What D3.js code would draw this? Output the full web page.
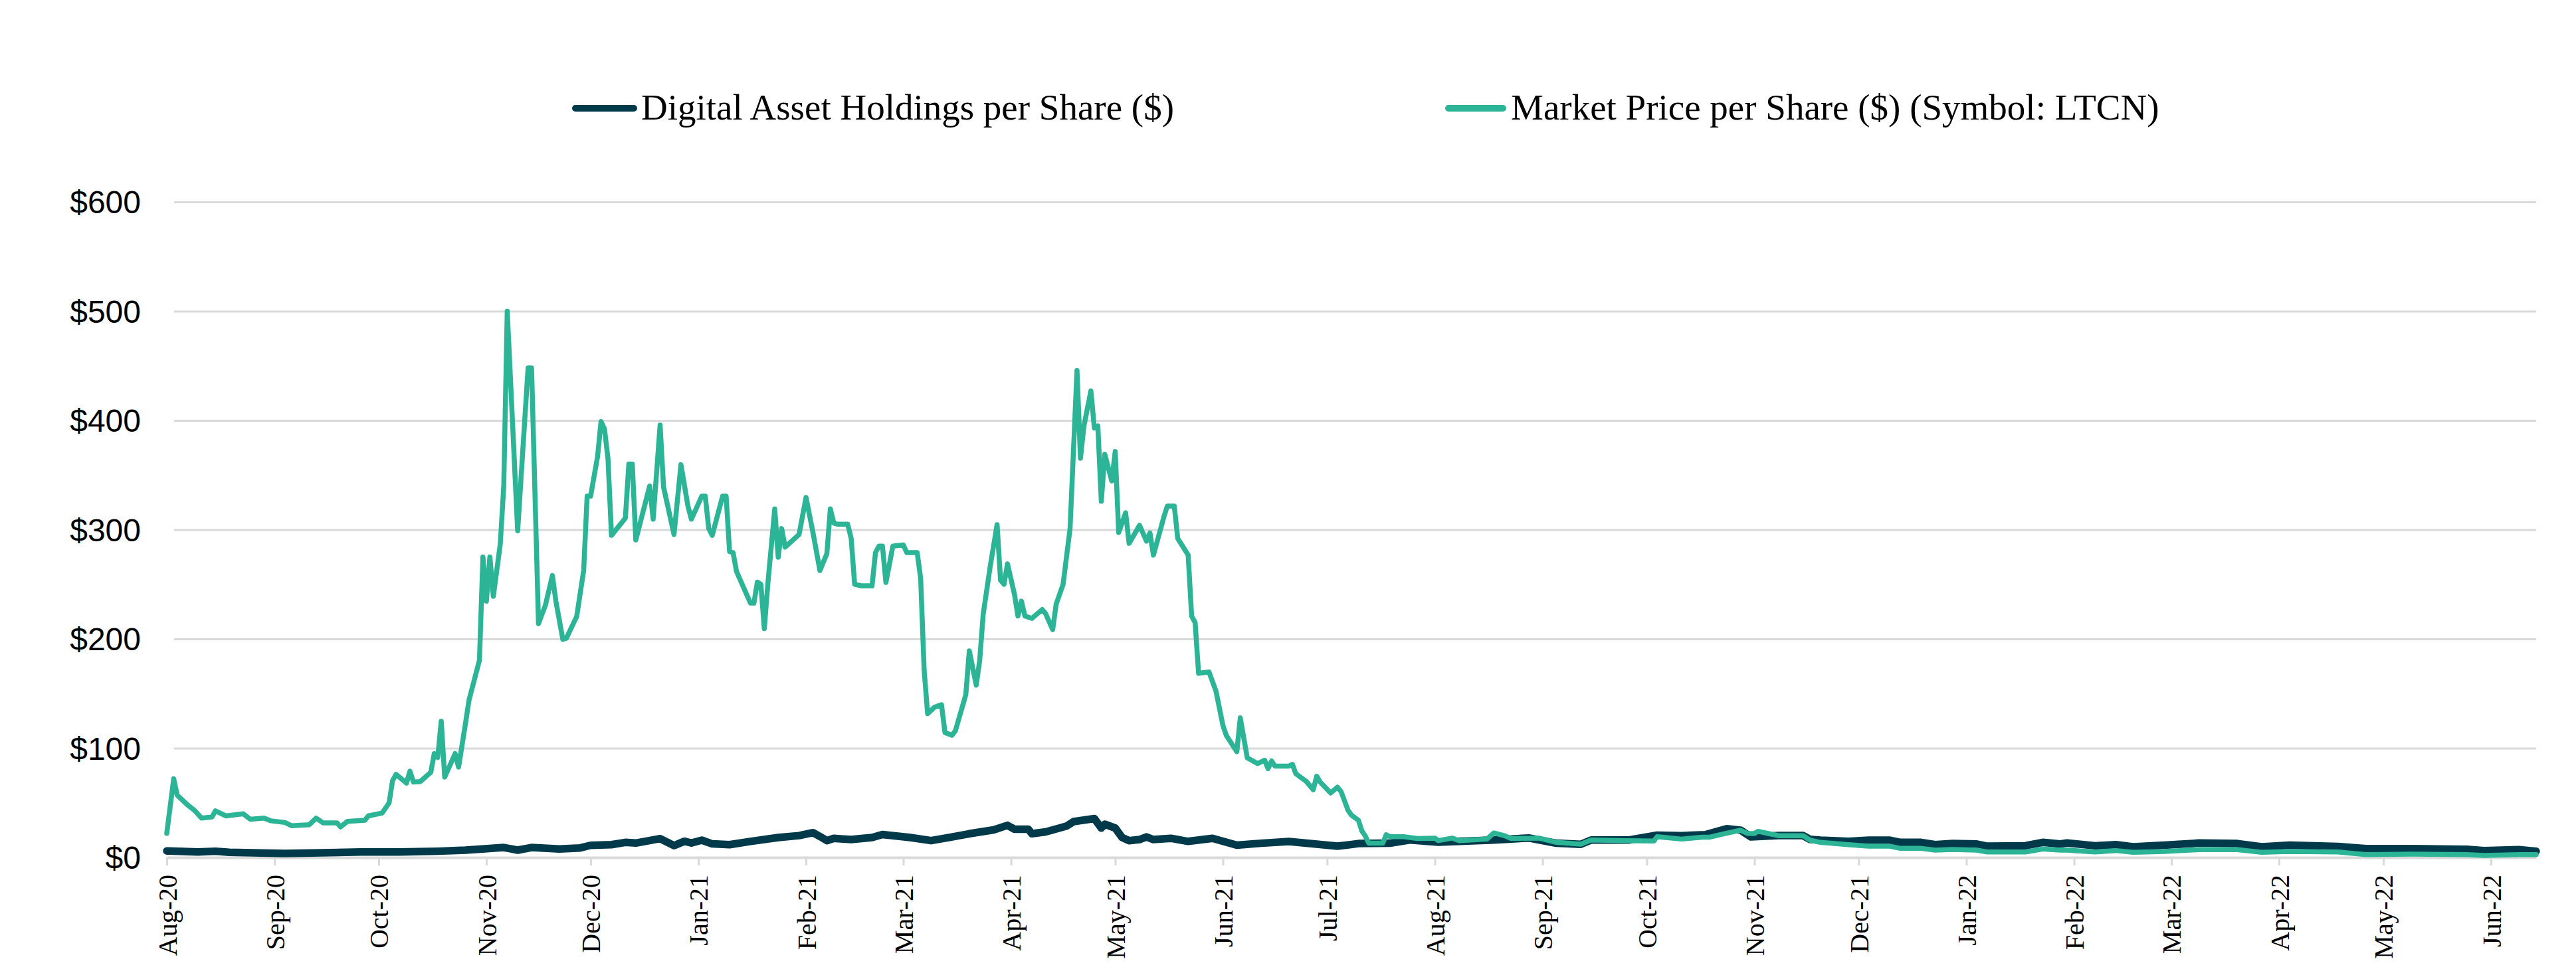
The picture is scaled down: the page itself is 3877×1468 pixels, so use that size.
<!DOCTYPE html>
<html>
<head>
<meta charset="utf-8">
<script src="https://cdn.jsdelivr.net/npm/d3@7"></script>
<style>
html, body { margin: 0; padding: 0; background: #ffffff; }
svg { display: block; }
</style>
</head>
<body>
<svg id="chart" width="3877" height="1468"></svg>
<script>
// ---------------- DATA ----------------
const seriesNames = ["Digital Asset Holdings per Share ($)", "Market Price per Share ($) (Symbol: LTCN)"];

const holdingsDates = [
"2020-08-01","2020-08-10","2020-08-15","2020-08-19","2020-09-04","2020-09-26","2020-10-07","2020-10-18","2020-10-26",
"2020-11-06","2020-11-10","2020-11-14","2020-11-22","2020-11-28","2020-12-01","2020-12-07","2020-12-11","2020-12-14",
"2020-12-21","2020-12-25","2020-12-28","2020-12-30","2021-01-02","2021-01-05","2021-01-10","2021-01-16","2021-01-24",
"2021-01-30","2021-02-03","2021-02-05","2021-02-07","2021-02-09","2021-02-14","2021-02-20","2021-02-23","2021-03-03",
"2021-03-09","2021-03-14","2021-03-20","2021-03-27","2021-03-31","2021-04-02","2021-04-06","2021-04-07","2021-04-11",
"2021-04-17","2021-04-19","2021-04-25","2021-04-27","2021-04-28","2021-05-01","2021-05-03","2021-05-05","2021-05-08",
"2021-05-10","2021-05-12","2021-05-17","2021-05-22","2021-05-29","2021-06-05","2021-06-12","2021-06-20","2021-07-04",
"2021-07-10","2021-07-19","2021-07-25","2021-08-02","2021-08-18","2021-08-28","2021-09-05","2021-09-12","2021-09-15",
"2021-09-26","2021-10-04","2021-10-11","2021-10-18","2021-10-24","2021-10-28","2021-10-31","2021-11-08","2021-11-15",
"2021-11-17","2021-11-20","2021-11-28","2021-12-04","2021-12-10","2021-12-13","2021-12-19","2021-12-23","2021-12-28",
"2022-01-04","2022-01-07","2022-01-18","2022-01-23","2022-01-28","2022-01-30","2022-02-07","2022-02-13","2022-02-18",
"2022-02-27","2022-03-09","2022-03-20","2022-03-27","2022-04-04","2022-04-18","2022-04-26","2022-05-09","2022-05-25",
"2022-05-30","2022-06-09","2022-06-14"];
const holdingsValues = [
6,5,5.7,4.7,3.6,5,5,5.7,6.7,
9.1,6.7,9.1,7.7,8.7,11.1,11.7,13.8,13.2,
17.2,10.8,14.8,13.2,15.8,12.4,11.7,14.7,18.2,
20,22.7,19.2,15.4,17.5,16.4,18.2,21,18.2,
15.4,18.2,21.7,25.2,29.4,25.8,25.8,21.7,23.4,
28.7,32.8,35.6,26.9,30.4,26.9,18.2,15.4,16.4,
18.8,16.4,17.5,14.7,17.5,11.2,13,14.6,10.3,
12.7,13,16,14,16,17.8,13,12,16,
16,20.4,19.9,20.9,26.3,25,18.8,20,20,
16.5,15.8,14.8,15.8,15.8,13.8,13.8,11.7,12.7,
12.3,10.3,10.7,13.8,12.3,13.2,10.7,11.7,9.7,
11.2,13.2,12.7,9.7,11.2,10.1,8.1,8.1,7.5,
6.3,7.1,5.7];

const priceDates = [
"2020-08-01","2020-08-03","2020-08-04","2020-08-07","2020-08-09","2020-08-11","2020-08-14","2020-08-15","2020-08-18",
"2020-08-23","2020-08-25","2020-08-29","2020-08-31","2020-09-04","2020-09-06","2020-09-11","2020-09-13","2020-09-15",
"2020-09-19","2020-09-20","2020-09-22","2020-09-27","2020-09-28","2020-10-02","2020-10-04","2020-10-05","2020-10-06",
"2020-10-09","2020-10-10","2020-10-11","2020-10-13","2020-10-16","2020-10-17","2020-10-18","2020-10-19","2020-10-20",
"2020-10-23","2020-10-24","2020-10-26","2020-10-27","2020-10-30","2020-10-31","2020-11-01","2020-11-02","2020-11-03",
"2020-11-05","2020-11-06","2020-11-07","2020-11-10","2020-11-13","2020-11-14","2020-11-16","2020-11-18","2020-11-20",
"2020-11-21","2020-11-23","2020-11-24","2020-11-27","2020-11-29","2020-11-30","2020-12-01","2020-12-03","2020-12-04",
"2020-12-05","2020-12-06","2020-12-07","2020-12-11","2020-12-12","2020-12-13","2020-12-14","2020-12-18","2020-12-19",
"2020-12-21","2020-12-22","2020-12-25","2020-12-27","2020-12-29","2020-12-30","2021-01-02","2021-01-03","2021-01-04",
"2021-01-05","2021-01-08","2021-01-09","2021-01-10","2021-01-11","2021-01-12","2021-01-16","2021-01-17","2021-01-18",
"2021-01-19","2021-01-20","2021-01-21","2021-01-23","2021-01-24","2021-01-25","2021-01-26","2021-01-30","2021-02-01",
"2021-02-03","2021-02-05","2021-02-07","2021-02-08","2021-02-09","2021-02-10","2021-02-13","2021-02-14","2021-02-15",
"2021-02-17","2021-02-20","2021-02-21","2021-02-22","2021-02-23","2021-02-24","2021-02-26","2021-03-01","2021-03-02",
"2021-03-05","2021-03-06","2021-03-07","2021-03-08","2021-03-10","2021-03-12","2021-03-13","2021-03-15","2021-03-16",
"2021-03-19","2021-03-20","2021-03-22","2021-03-23","2021-03-24","2021-03-26","2021-03-28","2021-03-29","2021-03-30",
"2021-03-31","2021-04-02","2021-04-03","2021-04-04","2021-04-05","2021-04-07","2021-04-10","2021-04-11","2021-04-13",
"2021-04-14","2021-04-16","2021-04-18","2021-04-20","2021-04-21","2021-04-22","2021-04-24","2021-04-25","2021-04-26",
"2021-04-27","2021-04-28","2021-04-30","2021-05-01","2021-05-02","2021-05-04","2021-05-05","2021-05-08","2021-05-10",
"2021-05-11","2021-05-12","2021-05-15","2021-05-16","2021-05-18","2021-05-19","2021-05-22","2021-05-23","2021-05-24",
"2021-05-25","2021-05-28","2021-05-30","2021-06-01","2021-06-02","2021-06-05","2021-06-06","2021-06-08","2021-06-11",
"2021-06-13","2021-06-14","2021-06-15","2021-06-16","2021-06-20","2021-06-21","2021-06-22","2021-06-25","2021-06-27",
"2021-06-28","2021-06-29","2021-07-02","2021-07-04","2021-07-05","2021-07-07","2021-07-08","2021-07-10","2021-07-11",
"2021-07-12","2021-07-13","2021-07-17","2021-07-18","2021-07-19","2021-07-23","2021-07-27","2021-08-01","2021-08-02",
"2021-08-06","2021-08-08","2021-08-16","2021-08-18","2021-08-21","2021-08-23","2021-08-31","2021-09-05","2021-09-12",
"2021-09-15","2021-09-25","2021-10-03","2021-10-04","2021-10-11","2021-10-17","2021-10-19","2021-10-22","2021-10-25",
"2021-10-28","2021-10-30","2021-11-01","2021-11-02","2021-11-08","2021-11-15","2021-11-17","2021-11-20","2021-11-28",
"2021-12-04","2021-12-10","2021-12-13","2021-12-19","2021-12-23","2021-12-28","2022-01-04","2022-01-07","2022-01-18",
"2022-01-23","2022-01-28","2022-01-30","2022-02-07","2022-02-13","2022-02-18","2022-02-27","2022-03-09","2022-03-20",
"2022-03-27","2022-04-04","2022-04-18","2022-04-26","2022-05-09","2022-05-25","2022-05-30","2022-06-09","2022-06-14"];
const priceValues = [
22,72,57,48,43,36,37,42.6,38,
40,35,36,33.5,32,29,30,36,31.6,
31.6,28,33,34,38,40.7,50,70.5,76,
68,79,69,69.5,78,95,91.5,124.6,73.6,
95,82.7,123,144,180.5,275,234.6,275,239,
287,340,500,299,448,448,214,231,258,
234.6,199.6,200.6,220.6,262.6,330.7,330.7,367,399,
392,365,294.8,310.6,360,360,290.6,340,309.6,
395.7,339,295.6,359.5,321.8,309.6,330.7,330.7,301,
294.8,330.7,330.7,280,279,261.7,232.8,232.8,252,
250,209.4,250,319,274.8,301,284,295.6,329.5,
297.4,262.6,278,319,306,305,305,292,250,
248.6,248.6,279,285,285,251.7,285,286,279,
279,255.5,171.7,131.6,137.5,139.8,114.3,111.8,116,
149,189,157.7,180.5,222.5,266,304.6,253.7,250,
268.7,240.8,221,234.6,221,218.8,226.9,223,208.5,
231.7,250,301,445.7,365.4,395,427,393,395,
326,369,344.6,371.5,297.4,315.5,287.5,304,289.5,
297,276.7,311.6,321.6,321.6,292,276.7,220.8,215,
168.5,169.7,152.3,120.8,111.5,96.8,127.8,91.2,85.9,
89,81.3,88.3,83.6,83.6,85.2,76.6,69.6,62,
74.3,69,59,64.3,60.3,43.3,38.7,34,24.3,
19.6,13,13,20.8,19,19,17.3,17.7,15.4,
17.7,15.4,16.8,22.4,20,17.3,17.7,13.8,12.2,
16,15.4,15,19,16.8,18.5,18.5,20.8,22.9,
24.9,22,21.9,23.9,19.9,19.9,15.8,13.8,11.7,
10.3,10.3,8.3,8.3,6.7,7.3,6.7,5,5,
7.7,6.7,6.7,5,6.3,4.7,5.5,7.1,7.1,
4.7,5.5,5,2.6,3,2.6,1.8,2.6,2.6];

const yTicks = [0, 100, 200, 300, 400, 500, 600];
const xDomain = ["2020-08-01", "2022-06-14"];
const seriesColors = ["#003a4a", "#2bb495"];

// ---------------- CHART ----------------
const parse = d3.timeParse("%Y-%m-%d");
const svg = d3.select("#chart");

const plotLeft = 251, plotRight = 3817, plotTop = 304, plotBottom = 1291, gridLeft = 262;

const x = d3.scaleTime().domain(xDomain.map(parse)).range([plotLeft, plotRight]);
const y = d3.scaleLinear().domain([0, 600]).range([plotBottom, plotTop]);

// Y axis with gridlines
const yAxis = d3.axisLeft(y)
  .tickValues(yTicks)
  .tickSize(-(plotRight - gridLeft))
  .tickPadding(50)
  .tickFormat(d => "$" + d);

const gy = svg.append("g").attr("transform", `translate(${gridLeft},0)`).call(yAxis);
gy.select(".domain").remove();
gy.selectAll(".tick line")
  .attr("stroke", "#d9d9d9")
  .attr("stroke-width", 3)
  .attr("opacity", d => d === 0 ? 0 : 1);
gy.selectAll(".tick text")
  .attr("font-family", "'Liberation Sans', Arial, sans-serif")
  .attr("font-size", 48)
  .attr("fill", "#000")
  .attr("dy", "0.35em");

// X axis
const months = d3.timeMonth.range(parse("2020-08-01"), parse("2022-06-02"));
const xAxis = d3.axisBottom(x)
  .tickValues(months)
  .tickSize(12)
  .tickSizeOuter(0)
  .tickFormat(d3.timeFormat("%b-%y"));

const gx = svg.append("g").attr("transform", `translate(0,${plotBottom})`).call(xAxis);
gx.select(".domain").attr("stroke", "#d9d9d9").attr("stroke-width", 4);
gx.selectAll(".tick line").attr("stroke", "#d9d9d9").attr("stroke-width", 3);
gx.selectAll(".tick text")
  .attr("font-family", "'Liberation Serif', 'Times New Roman', serif")
  .attr("font-size", 40)
  .attr("fill", "#000")
  .attr("transform", "rotate(-90)")
  .attr("text-anchor", "end")
  .attr("x", -26)
  .attr("y", 0)
  .attr("dy", "0.35em");

// Lines
const line = d3.line()
  .x(d => x(d.date))
  .y(d => y(d.value));

const holdings = holdingsDates.map((d, i) => ({ date: parse(d), value: holdingsValues[i] }));
const price = priceDates.map((d, i) => ({ date: parse(d), value: priceValues[i] }));

svg.append("path")
  .datum(holdings)
  .attr("d", line)
  .attr("fill", "none")
  .attr("stroke", seriesColors[0])
  .attr("stroke-width", 11.5)
  .attr("stroke-linejoin", "round")
  .attr("stroke-linecap", "round");

svg.append("path")
  .datum(price)
  .attr("d", line)
  .attr("fill", "none")
  .attr("stroke", seriesColors[1])
  .attr("stroke-width", 7.5)
  .attr("stroke-linejoin", "round")
  .attr("stroke-linecap", "round");

// Legend
const legendItems = [
  { name: seriesNames[0], color: seriesColors[0], x1: 866, x2: 954, tx: 965 },
  { name: seriesNames[1], color: seriesColors[1], x1: 2180, x2: 2262, tx: 2274 }
];
const lg = svg.append("g");
legendItems.forEach(it => {
  lg.append("line")
    .attr("x1", it.x1).attr("x2", it.x2)
    .attr("y1", 163).attr("y2", 163)
    .attr("stroke", it.color)
    .attr("stroke-width", 10)
    .attr("stroke-linecap", "round");
  lg.append("text")
    .attr("x", it.tx).attr("y", 180)
    .attr("font-family", "'Liberation Serif', 'Times New Roman', serif")
    .attr("font-size", 55)
    .attr("fill", "#000")
    .text(it.name);
});
</script>
</body>
</html>
